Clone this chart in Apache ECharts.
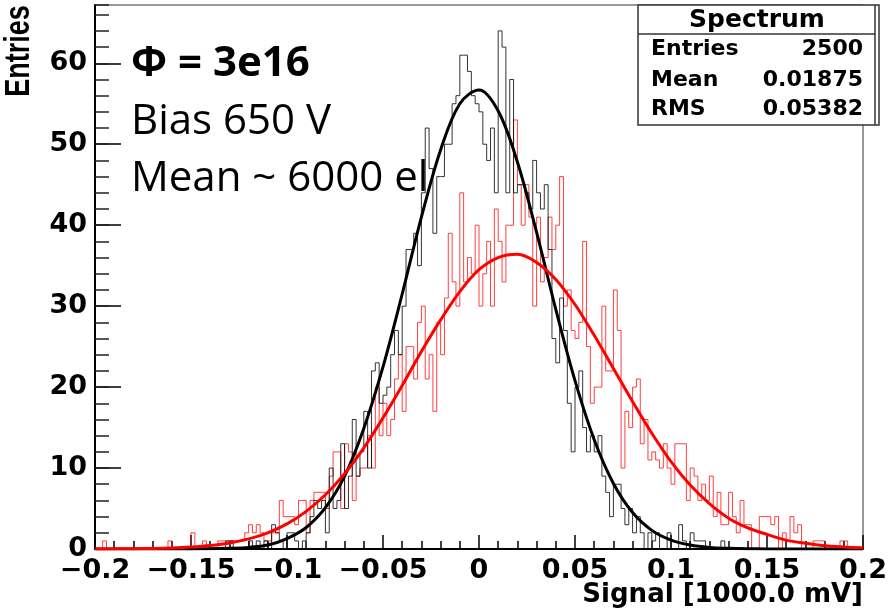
<!DOCTYPE html>
<html>
<head>
<meta charset="utf-8">
<script src="https://cdn.jsdelivr.net/npm/echarts@6/dist/echarts.min.js"></script>
<style>html,body{margin:0;padding:0;background:#fff}#c{width:889px;height:612px}</style>
</head>
<body>
<div id="c"></div>
<script>
// ---- data ----
const xMin = -0.2, xMax = 0.2, binWidth = 0.002;
const blackCounts = [
0,0,0,0,0,0,0,0,0,0,0,0,0,0,0,0,0,0,0,0,
0,0,0,0,0,0,0,0,0,0,0,0,0,0,1,1,0,0,0,0,
1,0,1,0,1,0,3,2,1,0,2,2,1,0,1,2,4,6,5,6,
2,10,5,6,13,5,9,16,9,12,17,10,22,23,18,19,20,24,27,24,
30,37,37,39,35,44,52,47,39,46,46,50,50,55,56,61,61,59,56,55,
54,50,48,52,44,64,62,44,58,44,45,45,44,42,48,44,42,45,37,26,
23,31,27,18,12,20,22,15,12,14,12,14,9,7,4,8,8,5,3,5,
2,4,2,0,2,1,2,0,0,2,0,0,3,1,0,2,1,1,1,0,
0,0,0,1,0,0,0,0,0,0,0,0,0,0,0,0,0,0,0,0,
0,0,0,0,0,0,0,0,0,0,0,0,0,0,0,0,0,0,0,0
];
const redCounts = [
0,0,1,0,0,0,0,0,0,0,0,0,0,0,0,0,0,0,0,1,
0,0,0,0,0,2,0,0,1,0,0,0,1,1,1,1,1,1,1,2,
3,2,3,2,1,1,2,2,6,4,4,4,3,6,6,2,6,7,7,7,
5,9,12,12,5,13,12,6,9,10,10,14,10,20,14,18,14,16,21,24,
17,25,25,21,28,30,21,24,17,28,24,31,39,33,30,44,33,36,34,40,
30,34,38,30,42,38,33,40,40,53,45,40,45,41,30,41,33,36,41,37,
40,46,30,32,27,26,28,38,25,18,20,20,30,22,22,32,27,10,17,15,
20,21,13,16,11,12,11,10,13,10,8,13,13,13,6,10,9,6,8,6,
9,4,7,3,3,7,4,2,6,3,3,0,0,4,4,4,3,4,0,2,
1,4,2,3,0,0,0,1,1,1,0,0,0,0,1,1,0,0,0,0
];
const fitX = [-0.2,-0.19,-0.18,-0.17,-0.16,-0.15,-0.14,-0.13,-0.12,-0.11,-0.1,-0.09,-0.08,-0.07,-0.06,-0.05,-0.04,-0.03,-0.02,-0.01,0,
  0.01,0.02,0.03,0.04,0.05,0.06,0.07,0.08,0.09,0.1,0.11,0.12,0.13,0.14,0.15,0.16,0.17,0.18,0.19,0.2];
const blackFit = [0,0,0,0,0,0.01,0.03,0.09,0.2,0.49,1.29,2.66,5.1,9.0,14.9,22.5,31.5,41.0,49.3,55.0,56.7,
  54.1,47.8,39.1,29.6,20.8,13.5,8.1,4.5,2.3,1.1,0.49,0.2,0.09,0.03,0.01,0,0,0,0,0];
const redFit = [0.01,0.02,0.04,0.07,0.13,0.25,0.44,0.75,1.25,2.0,3.1,4.65,6.7,9.3,12.5,16.2,20.2,24.4,28.3,31.8,34.5,
  36.0,36.4,35.4,33.3,30.2,26.4,22.3,18.2,14.3,10.8,7.9,5.6,3.8,2.6,1.8,1.1,0.7,0.4,0.25,0.15];
const yMajorStep = 10;
const yMinorStep = 2;
const yMax = 67.2;
const statsTitle = 'Spectrum';
const statsRows = [['Entries','2500'],['Mean','0.01875'],['RMS','0.05382']];
const annotations = ['\u03A6 = 3e16','Bias 650 V','Mean ~ 6000 el'];
const xTitle = 'Signal [1000.0 mV]';
const yTitle = 'Entries';

function histData(counts){
  const d = counts.map((c,i)=>[+(xMin + i*binWidth).toFixed(4), c]);
  d.push([xMax, counts[counts.length-1]]);
  return d;
}
function fitData(ys){ return fitX.map((x,i)=>[x, ys[i]]); }

const tickFont = 'DejaVu Sans';
const chart = echarts.init(document.getElementById('c'), null, {renderer:'canvas'});
const statsRowY = [49, 80, 109];
const graphics = [
  {type:'text', x:131, y:64, z:0, style:{text:annotations[0], font:'bold 42px "Open Sans"', fill:'#000', verticalAlign:'middle', align:'left'}},
  {type:'text', x:131, y:122, z:0, style:{text:annotations[1], font:'42px "Open Sans"', fill:'#000', verticalAlign:'middle', align:'left'}},
  {type:'text', x:131, y:179, z:0, style:{text:annotations[2], font:'42px "Open Sans"', fill:'#000', verticalAlign:'middle', align:'left'}},
  {type:'text', x:19, y:51, rotation:Math.PI/2, scaleY:1.3, z:10, style:{text:yTitle, font:'bold 27px "Liberation Sans"', fill:'#000', verticalAlign:'middle', align:'center'}},
  {type:'text', x:863, y:595, z:10, style:{text:xTitle, font:'bold 26px "DejaVu Sans"', fill:'#000', verticalAlign:'middle', align:'right'}},
  {type:'rect', z:20, shape:{x:638, y:5, width:241, height:120}, style:{fill:'#fff', stroke:'#333', lineWidth:1.5}},
  {type:'line', z:21, shape:{x1:875, y1:5, x2:875, y2:125}, style:{stroke:'#333', lineWidth:1.5}},
  {type:'line', z:21, shape:{x1:638, y1:34, x2:875, y2:34}, style:{stroke:'#333', lineWidth:1.5}},
  {type:'text', z:22, x:757, y:20, style:{text:statsTitle, font:'bold 25px "DejaVu Sans"', fill:'#000', verticalAlign:'middle', align:'center'}}
];
statsRows.forEach((r,k)=>{
  graphics.push({type:'text', z:22, x:651, y:statsRowY[k], style:{text:r[0], font:'bold 22px "DejaVu Sans"', fill:'#000', verticalAlign:'middle', align:'left'}});
  graphics.push({type:'text', z:22, x:863, y:statsRowY[k], style:{text:r[1], font:'bold 22px "DejaVu Sans"', fill:'#000', verticalAlign:'middle', align:'right'}});
});

chart.setOption({
  animation:false,
  grid:{left:95, right:26, top:5, bottom:63, show:true, borderColor:'#333', borderWidth:1, outerBoundsMode:'none', containLabel:false},
  xAxis:{
    type:'value', min:xMin, max:xMax, interval:0.05,
    axisLine:{show:true, onZero:false, lineStyle:{color:'#000', width:2}},
    axisTick:{show:true, inside:true, length:14, lineStyle:{color:'#000', width:1.5}},
    minorTick:{show:true, splitNumber:5, length:8, lineStyle:{color:'#000', width:1.5}},
    splitLine:{show:false}, minorSplitLine:{show:false},
    axisLabel:{margin:8, color:'#000', fontFamily:tickFont, fontWeight:'bold', fontSize:27,
      formatter:v=>{ const s = (Math.round(v*1000)/1000).toString(); return s.replace('-', '\u2212'); }}
  },
  yAxis:[{
    type:'value', min:0, max:yMax, interval:yMajorStep,
    axisLine:{show:true, onZero:false, lineStyle:{color:'#000', width:2}},
    axisTick:{show:true, inside:true, length:26, lineStyle:{color:'#000', width:1.5}},
    splitLine:{show:false},
    axisLabel:{margin:8, color:'#000', fontFamily:tickFont, fontWeight:'bold', fontSize:27, showMaxLabel:false,
      formatter:v=> (v % yMajorStep === 0 ? String(v) : '')}
  },{
    type:'value', min:0, max:yMax, interval:yMinorStep, position:'left', offset:0,
    axisLine:{show:false, onZero:false},
    axisTick:{show:true, inside:true, length:14, lineStyle:{color:'#222', width:1.5}},
    splitLine:{show:false},
    axisLabel:{show:false}
  }],
  graphic:{elements:graphics},
  series:[
    {type:'line', name:'red hist', data:histData(redCounts), step:'end', symbol:'none', showSymbol:false, z:2,
      lineStyle:{color:'rgba(255,0,0,0.75)', width:1}},
    {type:'line', name:'black hist', data:histData(blackCounts), step:'end', symbol:'none', showSymbol:false, z:3,
      lineStyle:{color:'rgba(0,0,0,0.8)', width:1}},
    {type:'line', name:'black fit', data:fitData(blackFit), smooth:0.35, symbol:'none', showSymbol:false, z:4,
      lineStyle:{color:'#000', width:3}},
    {type:'line', name:'red fit', data:fitData(redFit), smooth:0.35, symbol:'none', showSymbol:false, z:5,
      lineStyle:{color:'#ff0000', width:3}}
  ]
});
</script>
</body>
</html>
